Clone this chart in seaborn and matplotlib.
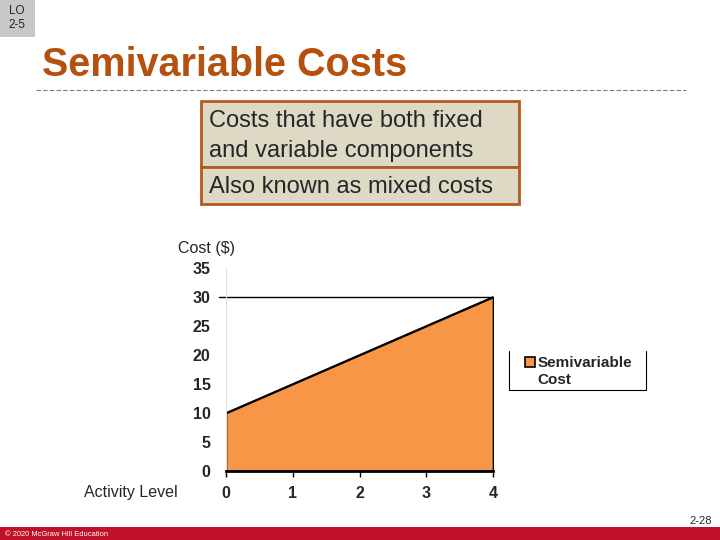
import matplotlib
matplotlib.use("Agg")
import matplotlib.pyplot as plt
import seaborn as sns
import pandas as pd
from matplotlib.patches import Rectangle, Patch
from matplotlib.lines import Line2D

# chart data
activity = [0, 1, 2, 3, 4]
cost = [10, 15, 20, 25, 30]
y_ticks = [0, 5, 10, 15, 20, 25, 30, 35]
series_name = ["Semivariable", "Cost"]

title = "Semivariable Costs"
box_lines = ["Costs that have both fixed\nand variable components", "Also known as mixed costs"]

df = pd.DataFrame({"Activity": activity, "Cost": cost})

sns.set_style("white")
plt.rcParams["font.family"] = ["Liberation Sans", "DejaVu Sans"]

W, H = 720, 540
fig = plt.figure(figsize=(7.2, 5.4), dpi=100)


def fx(px):
    return px / W


def fy(py):
    return 1 - py / H


# header
fig.patches.append(Rectangle((0, fy(37)), fx(35), 37 / H, transform=fig.transFigure,
                             facecolor="#C8C8C8", edgecolor="none"))
fig.text(fx(17), fy(18), "LO\n2-5", ha="center", va="center", fontsize=8.5, linespacing=1.2)
fig.text(fx(42), fy(65), title, ha="left", va="center", fontsize=28.5, fontweight="bold",
         color="#B5500F")
fig.lines.append(Line2D([fx(36), fx(686)], [fy(90), fy(90)], transform=fig.transFigure,
                        color="#6A8099", lw=0.8, ls=(0, (4, 2))))

# definition boxes
fig.patches.append(Rectangle((fx(201), fy(167)), fx(318), 66 / H, transform=fig.transFigure,
                             facecolor="#DDD9C4", edgecolor="#B5591F", lw=2))
fig.patches.append(Rectangle((fx(201), fy(204)), fx(318), 37 / H, transform=fig.transFigure,
                             facecolor="#DDD9C4", edgecolor="#B5591F", lw=2))
fig.text(fx(209), fy(136), box_lines[0], ha="left", va="center", fontsize=17, linespacing=1.42)
fig.text(fx(209), fy(187), box_lines[1], ha="left", va="center", fontsize=17)

# chart
ax = fig.add_axes([fx(226), fy(471), fx(493 - 226), (471 - 268) / H])
ax.fill_between(df["Activity"], df["Cost"], 0, color="#F79646", edgecolor="black", lw=1.2)
sns.lineplot(data=df, x="Activity", y="Cost", ax=ax, color="black", lw=1.2)
ax.axhline(30, xmin=-0.026, xmax=1, color="black", lw=1, clip_on=False)
ax.set_xlim(0, 4)
ax.set_ylim(0, 35)
ax.set_yticks(y_ticks)
ax.set_xticks(activity)
ax.set_xlabel("")
ax.set_ylabel("")
for lab in ax.get_xticklabels() + ax.get_yticklabels():
    lab.set_fontweight("bold")
ax.tick_params(axis="y", length=0, pad=11, labelsize=11.5)
ax.tick_params(axis="x", length=4, width=1, direction="out", pad=7, labelsize=11.5,
               bottom=True, color="black")
ax.spines["top"].set_visible(False)
ax.spines["right"].set_visible(False)
ax.spines["left"].set_color("#E0E0E0")
ax.spines["bottom"].set_color("black")
ax.spines["bottom"].set_linewidth(2)
ax.set_facecolor("white")

fig.text(fx(207), fy(248), "Cost ($)", ha="center", va="center", fontsize=11.5)
fig.text(fx(178), fy(493), "Activity Level", ha="right", va="center", fontsize=11.5)

# legend
fig.legend(handles=[Patch(facecolor="#F79646", edgecolor="black", lw=1.2, label=series_name[0])],
           loc="upper left", bbox_to_anchor=(fx(513), fy(344)), frameon=False,
           prop={"weight": "bold", "size": 11}, handlelength=0.65, handleheight=0.65,
           handletextpad=0.15, borderpad=0.3)
fig.text(fx(537), fy(380), series_name[1], ha="left", va="center", fontsize=11,
         fontweight="bold")
fig.lines.append(Line2D([fx(509), fx(509), fx(646), fx(646)], [fy(351), fy(390), fy(390), fy(351)],
                        transform=fig.transFigure, color="black", lw=0.8))

# footer
fig.patches.append(Rectangle((0, 0), 1, 13 / H, transform=fig.transFigure,
                             facecolor="#C0102A", edgecolor="none"))
fig.text(fx(5), fy(534), "© 2020 McGraw Hill Education", ha="left", va="center",
         fontsize=5.4, color="white")
fig.text(fx(712), fy(521), "2-28", ha="right", va="center", fontsize=8)

fig.savefig("out.png", dpi=100)
